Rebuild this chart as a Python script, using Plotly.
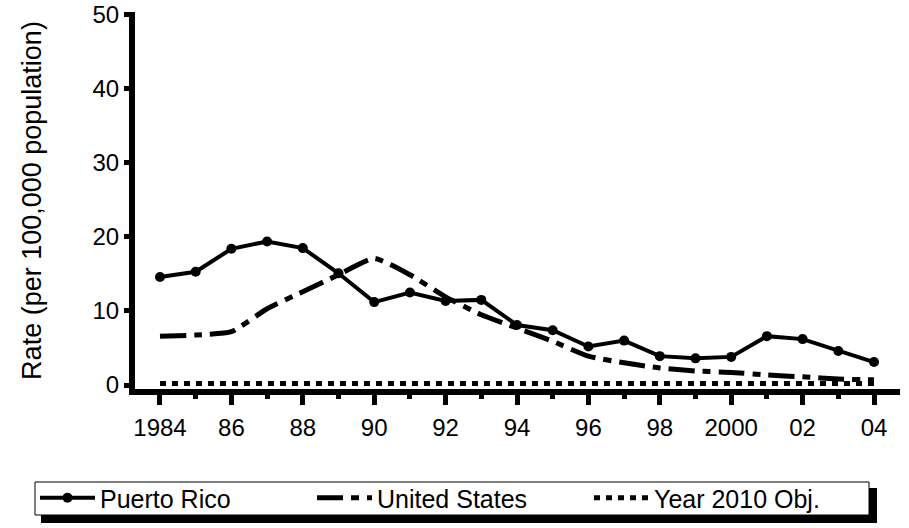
import plotly.graph_objects as go

years = list(range(1984, 2005))
puerto_rico = [14.6, 15.3, 18.4, 19.4, 18.5, 15.1, 11.2, 12.5, 11.35, 11.5,
               8.1, 7.4, 5.2, 6.0, 3.9, 3.6, 3.8, 6.6, 6.2, 4.6, 3.1]
united_states = [6.6, 6.75, 7.2, 10.3, 12.6, 14.9, 17.1, 14.9, 11.9, 9.5,
                 7.7, 5.9, 3.9, 3.0, 2.3, 1.9, 1.7, 1.35, 1.1, 0.8, 0.7]
objective_2010 = [0.2] * len(years)

x_tickvals = list(range(1984, 2005, 2))
x_ticktext = ["1984", "86", "88", "90", "92", "94", "96", "98", "2000", "02", "04"]
y_tickvals = [0, 10, 20, 30, 40, 50]

FONT = "Liberation Sans, Arial, Helvetica, sans-serif"

fig = go.Figure()
fig.add_trace(go.Scatter(
    x=years, y=objective_2010, name="Year 2010 Obj.", mode="lines",
    line=dict(color="black", width=5, dash="6px,6px"), legendrank=3))
fig.add_trace(go.Scatter(
    x=years, y=united_states, name="United States", mode="lines",
    line=dict(color="black", width=5, dash="26px,8px,8px,8px", shape="spline", smoothing=0.5),
    legendrank=2))
fig.add_trace(go.Scatter(
    x=years, y=puerto_rico, name="Puerto Rico", mode="lines+markers",
    line=dict(color="black", width=4), marker=dict(color="black", size=10),
    legendrank=1))

W, H = 909, 528
L, R, T, B = 135, 9, 12, 139
pw, ph = W - L - R, H - T - B


def fx(p):
    return (p - L) / pw


def fy(p):
    return (H - B - p) / ph


# legend frame: drop shadow, then white box with thin border
fig.add_shape(type="rect", xref="paper", yref="paper",
              x0=fx(41), x1=fx(877), y0=fy(488), y1=fy(523),
              fillcolor="black", line=dict(width=0), layer="above")
fig.add_shape(type="rect", xref="paper", yref="paper",
              x0=fx(35), x1=fx(869), y0=fy(482), y1=fy(515),
              fillcolor="white", line=dict(color="black", width=1), layer="above")

fig.update_layout(
    width=W, height=H,
    margin=dict(l=L, r=R, t=T, b=B, autoexpand=False),
    paper_bgcolor="white", plot_bgcolor="white",
    font=dict(family=FONT, color="black", size=24),
    showlegend=True,
    legend=dict(
        orientation="h", xref="paper", yref="paper",
        x=fx(35), y=fy(475), xanchor="left", yanchor="top",
        bgcolor="rgba(0,0,0,0)", borderwidth=0,
        font=dict(size=25, family=FONT, color="black"),
        entrywidth=207, entrywidthmode="pixels", itemwidth=55,
        traceorder="normal",
    ),
    xaxis=dict(
        range=[1983.30, 2004.728], showgrid=False, zeroline=False,
        showline=True, linecolor="black", linewidth=6,
        tickmode="array", tickvals=x_tickvals, ticktext=x_ticktext,
        ticks="outside", ticklen=10, tickwidth=5, tickcolor="black",
        minor=dict(dtick=1, tick0=1984, ticks="outside", ticklen=4, tickwidth=5, tickcolor="black"),
        tickfont=dict(size=24), ticklabelstandoff=2,
    ),
    yaxis=dict(
        range=[-0.54, 50.4], showgrid=False, zeroline=False,
        showline=True, linecolor="black", linewidth=6,
        tickmode="array", tickvals=y_tickvals,
        ticks="outside", ticklen=5, tickwidth=5, tickcolor="black",
        tickfont=dict(size=24),
        title=dict(text="Rate (per 100,000 population)", font=dict(size=27), standoff=45),
    ),
)

fig.write_html("out.html", config={"displayModeBar": False},
               post_script="document.body.style.margin='0px';")
